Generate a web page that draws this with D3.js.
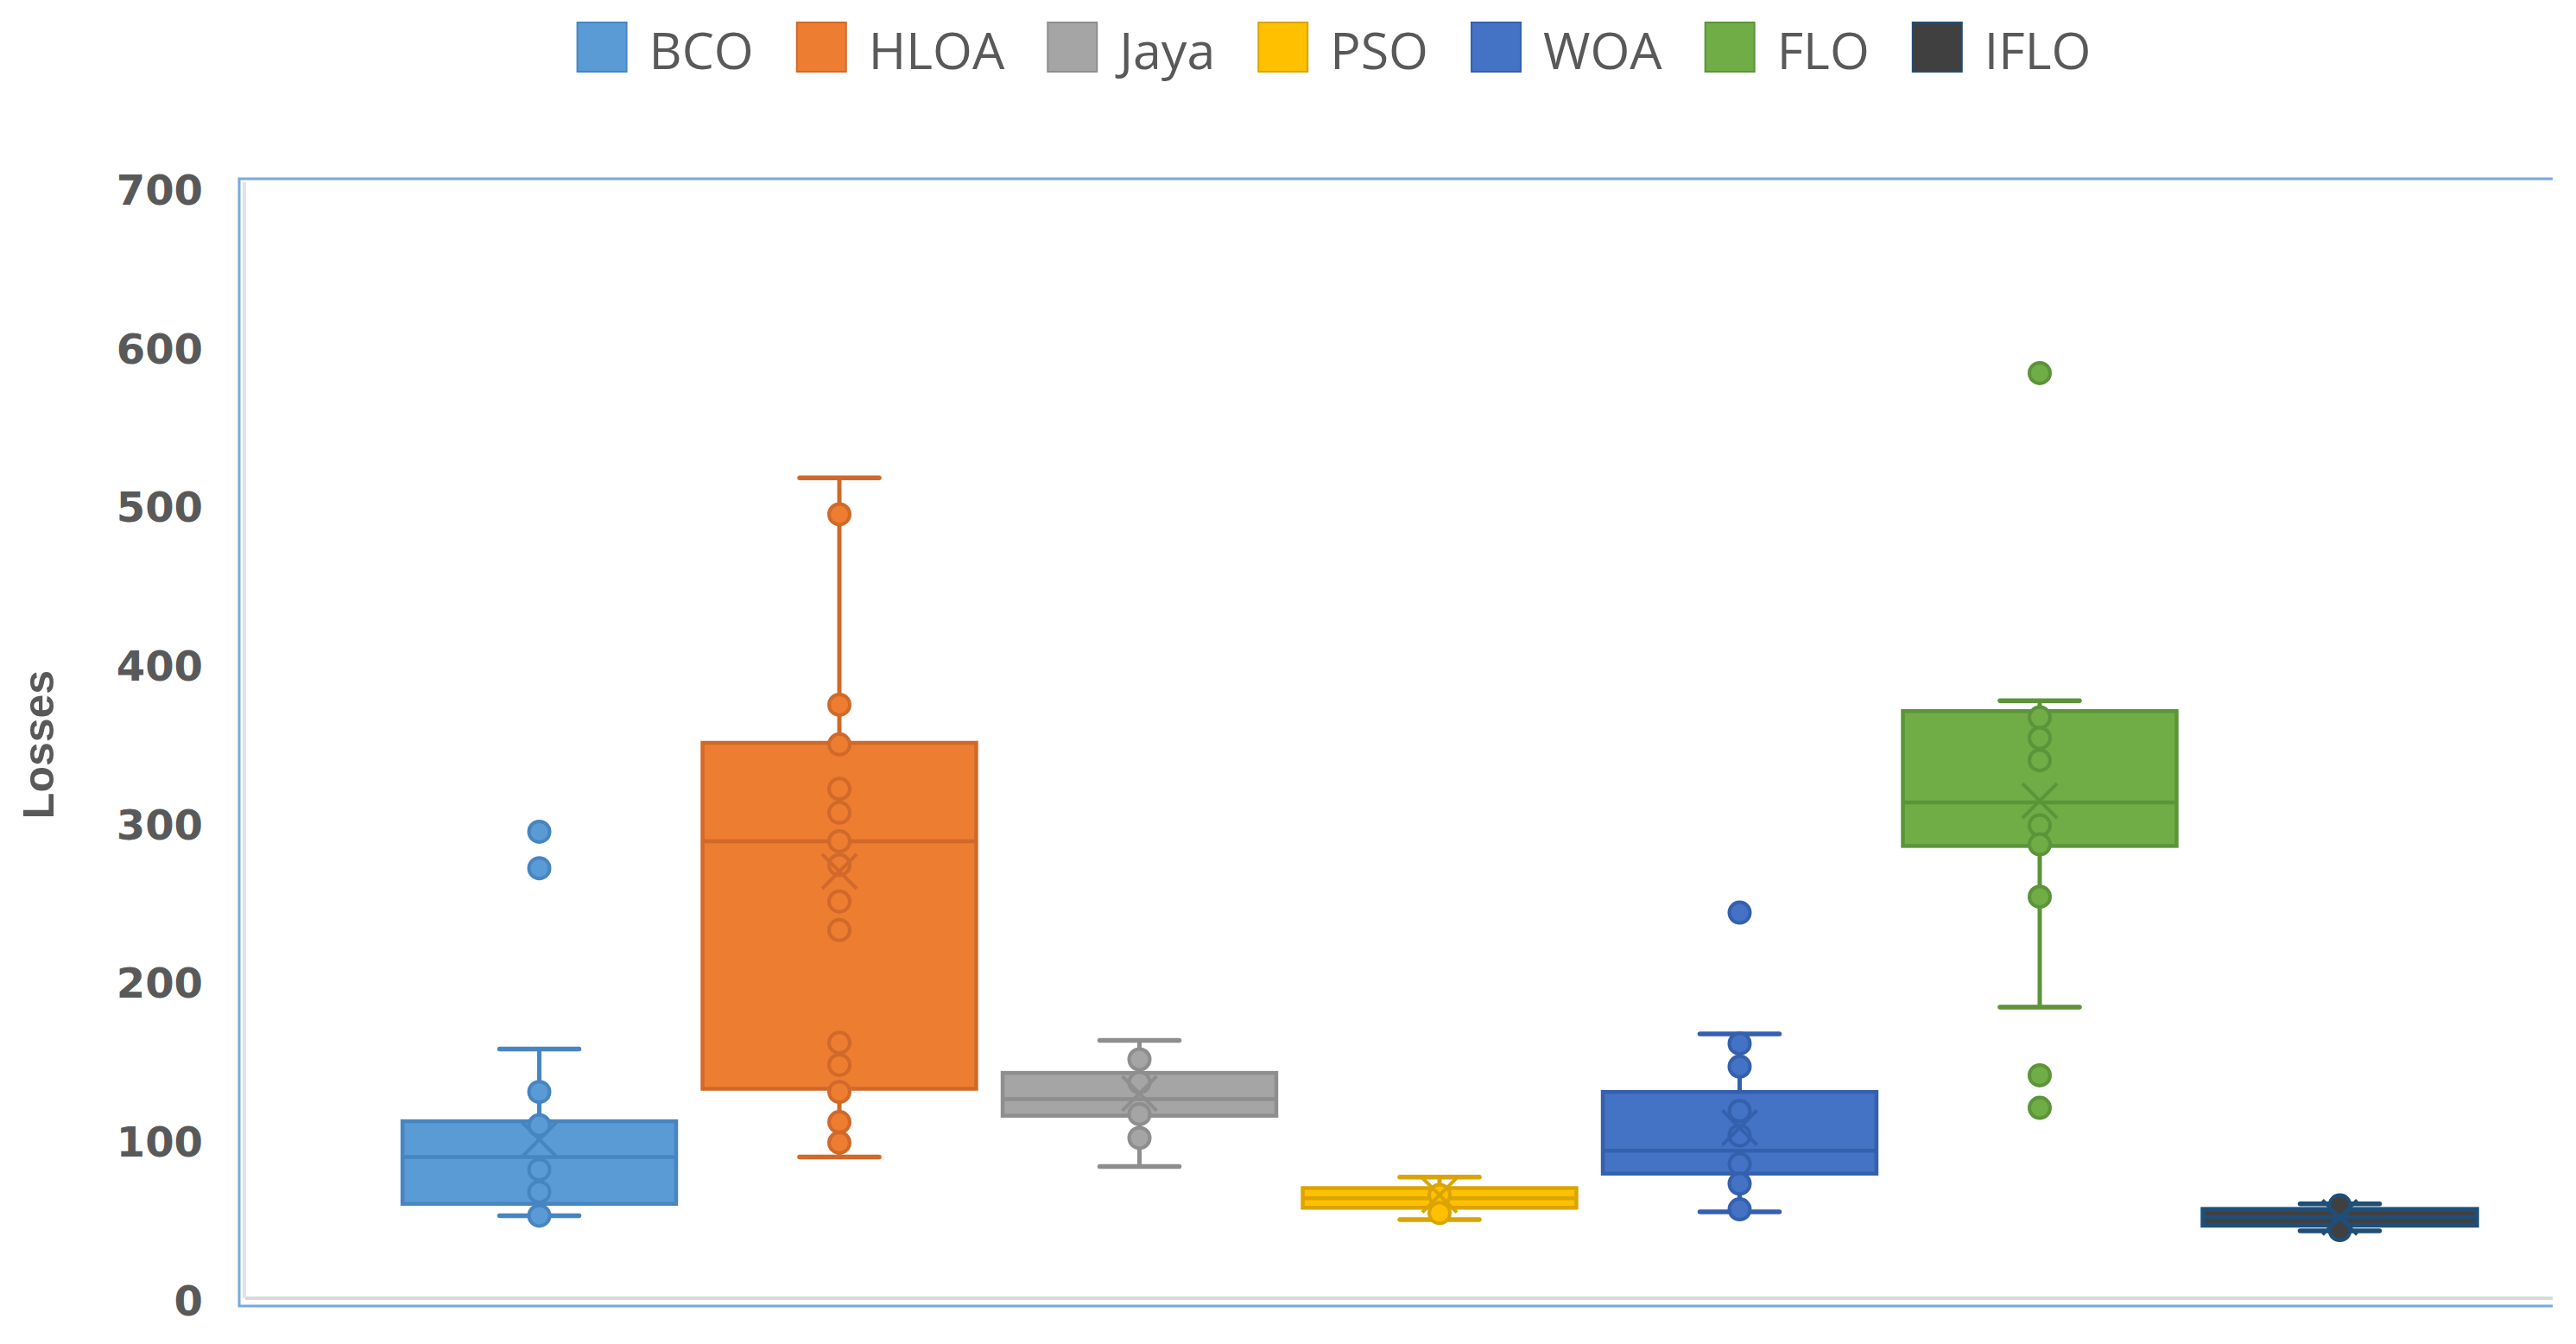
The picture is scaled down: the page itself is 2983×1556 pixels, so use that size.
<!DOCTYPE html>
<html>
<head>
<meta charset="utf-8">
<script src="https://cdn.jsdelivr.net/npm/d3@7"></script>
<style>
  html, body { margin: 0; padding: 0; background: #fff; }
  svg { display: block; }
</style>
</head>
<body>
<svg id="chart"></svg>
<script>
// ── Data ──────────────────────────────────────────────
const series      = ['BCO', 'HLOA', 'Jaya', 'PSO', 'WOA', 'FLO', 'IFLO'];
const q1          = [59.5, 132,   115,   57,   78.5, 285,   46];
const medians     = [89,   288,   125.5, 63,   93,   312.5, 51];
const q3          = [111.5, 350,  142,   69.4, 130,  370,   56];
const whiskerLow  = [52,   89,    83,    49.5, 54.5, 183.5, 42.5];
const whiskerHigh = [157,  517,   162.5, 76.3, 166.5, 376.5, 59.5];
const means       = [100,  269,   129,   65,   107.5, 313.5, 51];

const bcoPoints  = [294, 271, 130, 109, 81, 67, 52];
const hloaPoints = [494, 374, 349, 321, 306, 288, 273, 250, 232, 161, 147, 130, 111, 98];
const jayaPoints = [150.5, 136, 116, 101];
const psoPoints  = [65, 53.7];
const woaPoints  = [243, 160.5, 146, 118, 102.5, 84.6, 72.2, 56];
const floPoints  = [583, 366, 353, 339, 298, 286, 253, 140.5, 120];
const ifloPoints = [58.5, 43];
const pointsBySeries = [bcoPoints, hloaPoints, jayaPoints, psoPoints, woaPoints, floPoints, ifloPoints];

const yTicks = [0, 100, 200, 300, 400, 500, 600, 700];

const fillColors   = ['#5B9BD5', '#ED7D31', '#A5A5A5', '#FFC000', '#4472C4', '#70AD47', '#404040'];
const strokeColors = ['#4785C2', '#D0692A', '#8E8E8E', '#DBA400', '#3460AE', '#5C943A', '#1F4E79'];

// ── Layout ────────────────────────────────────────────
const W = 2983, H = 1556;
const plot = { left: 277, top: 207, bottom: 1512, right: 2956 };
const FONT_AXIS = '"DejaVu Sans", Verdana, sans-serif';
const FONT_LEG  = '"Open Sans", "Noto Sans", sans-serif';

const svg = d3.select('#chart').attr('width', W).attr('height', H);

const x = d3.scaleBand()
  .domain(series)
  .range([plot.left, plot.left + 8 * 347.5])
  .paddingInner(0)
  .paddingOuter(0.5);

const y = d3.scaleLinear()
  .domain([0, 700])
  .range([1503, 217]);

const boxW = x.bandwidth() * 0.912;
const capW = 92;

// ── Plot frame + axis lines ───────────────────────────
const frame = svg.append('g');
frame.append('line')
  .attr('x1', plot.left + 7).attr('x2', plot.right)
  .attr('y1', y(0)).attr('y2', y(0))
  .attr('stroke', '#D9D9D9').attr('stroke-width', 4);
frame.append('line')
  .attr('x1', plot.left + 6).attr('x2', plot.left + 6)
  .attr('y1', plot.top + 4).attr('y2', y(0))
  .attr('stroke', '#E3E3E3').attr('stroke-width', 4);
frame.append('path')
  .attr('d', `M${plot.right},${plot.top} H${plot.left} V${plot.bottom} H${plot.right}`)
  .attr('fill', 'none')
  .attr('stroke', '#75AADF')
  .attr('stroke-width', 3);

// ── Y axis labels ─────────────────────────────────────
svg.append('g')
  .attr('transform', `translate(${plot.left},4)`)
  .call(d3.axisLeft(y).tickValues(yTicks).tickSize(0).tickPadding(42))
  .call(ax => ax.select('.domain').remove())
  .call(ax => ax.selectAll('text')
    .attr('fill', '#595959')
    .attr('font-size', 48)
    .attr('font-weight', 'bold')
    .attr('font-family', FONT_AXIS));

svg.append('text')
  .attr('transform', `translate(62,${(y(0) + y(700)) / 2 + 2}) rotate(-90)`)
  .attr('text-anchor', 'middle')
  .attr('fill', '#595959')
  .attr('font-size', 50)
  .attr('font-weight', 'bold')
  .attr('font-family', '"Liberation Sans", Arial, sans-serif')
  .text('Losses');

// ── Boxes ─────────────────────────────────────────────
const boxes = series.map((name, i) => ({
  name, i,
  q1: q1[i], med: medians[i], q3: q3[i],
  lo: whiskerLow[i], hi: whiskerHigh[i], mean: means[i],
  pts: pointsBySeries[i],
  fill: fillColors[i], stroke: strokeColors[i],
  cx: x(name) + x.bandwidth() / 2,
}));

const gBox = svg.append('g')
  .selectAll('g')
  .data(boxes)
  .join('g');

// whisker stems
gBox.append('line')
  .attr('x1', d => d.cx).attr('x2', d => d.cx)
  .attr('y1', d => y(d.hi)).attr('y2', d => y(d.q3))
  .attr('stroke', d => d.stroke).attr('stroke-width', 5);
gBox.append('line')
  .attr('x1', d => d.cx).attr('x2', d => d.cx)
  .attr('y1', d => y(d.q1)).attr('y2', d => y(d.lo))
  .attr('stroke', d => d.stroke).attr('stroke-width', 5);

// caps
[d => d.hi, d => d.lo].forEach(acc => {
  gBox.append('line')
    .attr('x1', d => d.cx - capW / 2).attr('x2', d => d.cx + capW / 2)
    .attr('y1', d => y(acc(d))).attr('y2', d => y(acc(d)))
    .attr('stroke', d => d.stroke).attr('stroke-width', 5.5)
    .attr('stroke-linecap', 'round');
});

// box
gBox.append('rect')
  .attr('x', d => d.cx - boxW / 2)
  .attr('width', boxW)
  .attr('y', d => y(d.q3))
  .attr('height', d => y(d.q1) - y(d.q3))
  .attr('fill', d => d.fill)
  .attr('stroke', d => d.stroke)
  .attr('stroke-width', d => d.name === 'IFLO' ? 5.5 : 4.5);

// median
gBox.append('line')
  .attr('x1', d => d.cx - boxW / 2).attr('x2', d => d.cx + boxW / 2)
  .attr('y1', d => y(d.med)).attr('y2', d => y(d.med))
  .attr('stroke', d => d.stroke).attr('stroke-width', 4.5);

// data points (inside the box they read as rings)
gBox.selectAll('circle')
  .data(d => d.pts.map(v => ({ v, d })))
  .join('circle')
    .attr('cx', p => p.d.cx)
    .attr('cy', p => y(p.v))
    .attr('r', 12)
    .attr('fill', p => p.d.fill)
    .attr('stroke', p => p.d.stroke)
    .attr('stroke-width', 4);

// mean marker (X)
const mS = 20;
gBox.append('path')
  .attr('d', d => {
    const cy = y(d.mean);
    return `M${d.cx - mS},${cy - mS}L${d.cx + mS},${cy + mS}M${d.cx - mS},${cy + mS}L${d.cx + mS},${cy - mS}`;
  })
  .attr('fill', 'none')
  .attr('stroke', d => d.stroke)
  .attr('stroke-width', 4);

// ── Legend ────────────────────────────────────────────
const SW = 57, GAP_TXT = 26, GAP_ITEM = 50;
const legend = svg.append('g');
const items = legend.selectAll('g')
  .data(boxes)
  .join('g');

items.append('rect')
  .attr('width', SW).attr('height', SW)
  .attr('y', 26)
  .attr('fill', d => d.fill)
  .attr('stroke', d => d.stroke)
  .attr('stroke-width', 2);

items.append('text')
  .attr('x', SW + GAP_TXT)
  .attr('y', 80)
  .attr('fill', '#595959')
  .attr('font-size', 59)
  .attr('font-family', FONT_LEG)
  .text(d => d.name);

let cursor = 0;
const offsets = [];
items.each(function () {
  offsets.push(cursor);
  const tw = d3.select(this).select('text').node().getComputedTextLength();
  cursor += SW + GAP_TXT + tw + GAP_ITEM;
});
const totalW = cursor - GAP_ITEM;
const legendX = 1545 - totalW / 2;
items.attr('transform', (d, i) => `translate(${legendX + offsets[i]},0)`);
</script>
</body>
</html>
